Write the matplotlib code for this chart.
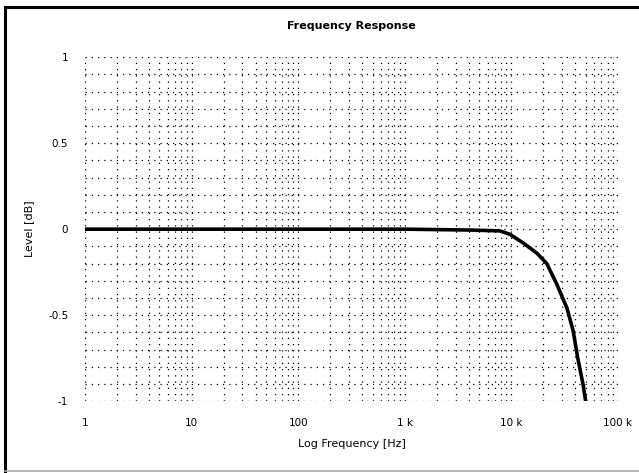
import numpy as np
import matplotlib
matplotlib.use('Agg')
import matplotlib.pyplot as plt
from matplotlib.lines import Line2D
from matplotlib.ticker import FixedLocator, LogLocator, MultipleLocator, NullFormatter

# Frequency response of the low-pass stage (read at these points)
freq_hz = [1, 10, 100, 1000, 4000, 7800, 9700, 12900, 17400, 21500,
           26700, 33300, 38000, 42000, 47000, 51000]
level_db = [0.0, 0.0, 0.0, 0.0, -0.005, -0.01, -0.03, -0.08, -0.14, -0.2,
            -0.32, -0.46, -0.59, -0.75, -0.9, -1.04]

x_ticks = [1, 10, 100, 1000, 10000, 100000]
x_tick_labels = ['1', '10', '100', '1 k', '10 k', '100 k']
y_ticks = [-1, -0.5, 0, 0.5, 1]
y_tick_labels = ['-1', '-0.5', '0', '0.5', '1']

fig = plt.figure(figsize=(6.39, 4.73), dpi=100)
ax = fig.add_axes([0.133, 0.152, 0.834, 0.727])

ax.semilogx(freq_hz, level_db, color='black', linewidth=2.6,
            solid_joinstyle='round', solid_capstyle='butt')

ax.set_xlim(1, 100000)
ax.set_ylim(-1, 1)

ax.xaxis.set_major_locator(FixedLocator(x_ticks))
ax.set_xticklabels(x_tick_labels)
ax.xaxis.set_minor_locator(LogLocator(base=10, subs=np.arange(2, 10)))
ax.xaxis.set_minor_formatter(NullFormatter())
ax.set_yticks(y_ticks)
ax.set_yticklabels(y_tick_labels)
ax.yaxis.set_minor_locator(MultipleLocator(0.1))

ax.tick_params(which='both', length=0, labelsize=7.5, pad=12)

# dotted grid on every decade step and every 0.1 dB
ax.grid(which='both', axis='both', color='black', linestyle=(0, (1, 4)), linewidth=0.9)
ax.set_axisbelow(True)

for side in ax.spines.values():
    side.set_visible(False)

ax.set_title('Frequency Response', fontsize=8, fontweight='bold', pad=20)
ax.set_xlabel('Log Frequency [Hz]', fontsize=8, labelpad=8)
ax.set_ylabel('Level [dB]', fontsize=8, labelpad=10)

# frame round the whole panel
fig.add_artist(Line2D([5 / 639, 1.0], [1 - 7 / 473, 1 - 7 / 473], color='black', linewidth=2.2))
fig.add_artist(Line2D([5 / 639, 5 / 639], [1 - 7 / 473, 1 - 471 / 473], color='black', linewidth=2.2))
fig.add_artist(Line2D([5 / 639, 1.0], [1 - 471 / 473, 1 - 471 / 473], color='#aaaaaa', linewidth=1.2))

fig.savefig('out.png', dpi=100)
plt.close(fig)
